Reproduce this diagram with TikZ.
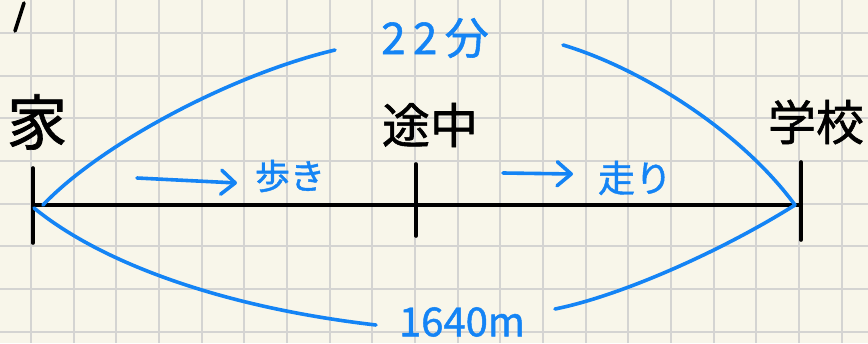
\documentclass[tikz,border=0pt]{standalone}
\usepackage{fontspec}
\newfontfamily\jp[FakeBold=1.2]{Noto Sans CJK JP}
\usetikzlibrary{arrows.meta}
\definecolor{paper}{RGB}{248,246,234}
\definecolor{gridc}{RGB}{212,212,210}
\definecolor{pen}{RGB}{20,132,245}
\tikzset{
  gridline/.style={gridc, line width=2pt},
  ink/.style={black, line width=3.6pt, line cap=round},
  blueink/.style={pen, line width=3.6pt, line cap=round},
  blacklabel/.style={inner sep=0pt, font=\jp, text=black},
  bluelabel/.style={inner sep=0pt, font=\jp, text=pen},
  barb/.style={-{Straight Barb[length=14pt,width=24pt,round]}}
}
\begin{document}
\begin{tikzpicture}[x=1pt,y=-1pt]
\useasboundingbox (0,0) rectangle (868,343);
\fill[paper] (0,0) rectangle (868,343);
% grid
\foreach \k in {0,...,19} { \draw[gridline] ({31+42.67*\k},0) -- ({31+42.67*\k},343); }
\foreach \k in {0,...,7} { \draw[gridline] (0,{33+42.67*\k}) -- (868,{33+42.67*\k}); }
% slash at top left
\coordinate (s1) at (15,31);
\coordinate (s2) at (24,3);
\draw[ink] (s1) -- (s2);
% points on the line
\coordinate (A) at (33,205);
\coordinate (M) at (416,205);
\coordinate (S) at (801,205);
\draw[ink] (A) -- (S);
\draw[ink] (33,168) -- (33,243);
\draw[ink] (416,164) -- (416,236);
\draw[ink] (801,162) -- (801,240);
% labels
\node[blacklabel, font=\jp\fontsize{60}{60}\selectfont] (home) at (37,122) {家};
\node[blacklabel, font=\jp\fontsize{48}{48}\selectfont] (mid) at (430,125) {途中};
\node[blacklabel, font=\jp\fontsize{48}{48}\selectfont] (school) at (816,122) {学校};
\node[bluelabel, font=\jp\fontsize{44}{44}\selectfont] (time) at (435,38) {2\,2\,分};
\node[bluelabel, font=\jp\fontsize{40}{40}\selectfont] (dist) at (462,322) {1640m};
\node[bluelabel, font=\jp\fontsize{35}{35}\selectfont] (walk) at (290,176) {歩き};
\node[bluelabel, font=\jp\fontsize{37}{37}\selectfont] (run) at (635,178) {走り};
% arrows
\coordinate (w1) at (137,178);
\coordinate (w2) at (237,183);
\coordinate (r1) at (503,173);
\coordinate (r2) at (573,174);
\draw[blueink, barb] (w1) -- (w2);
\draw[blueink, barb] (r1) -- (r2);
% braces (arcs)
\coordinate (tl0) at (43,205);
\coordinate (tl1) at (335,50);
\coordinate (tr0) at (563,45);
\coordinate (tr1) at (795,205);
\coordinate (bl0) at (34,208);
\coordinate (bl1) at (376,325);
\coordinate (br0) at (555,309);
\draw[blueink] (tl0) .. controls (100,145) and (230,75) .. (tl1);
\draw[blueink] (tr0) .. controls (640,68) and (740,130) .. (tr1);
\draw[blueink] (bl0) .. controls (100,262) and (220,307) .. (bl1);
\draw[blueink] (br0) .. controls (620,296) and (720,252) .. (tr1);
\end{tikzpicture}
\end{document}
